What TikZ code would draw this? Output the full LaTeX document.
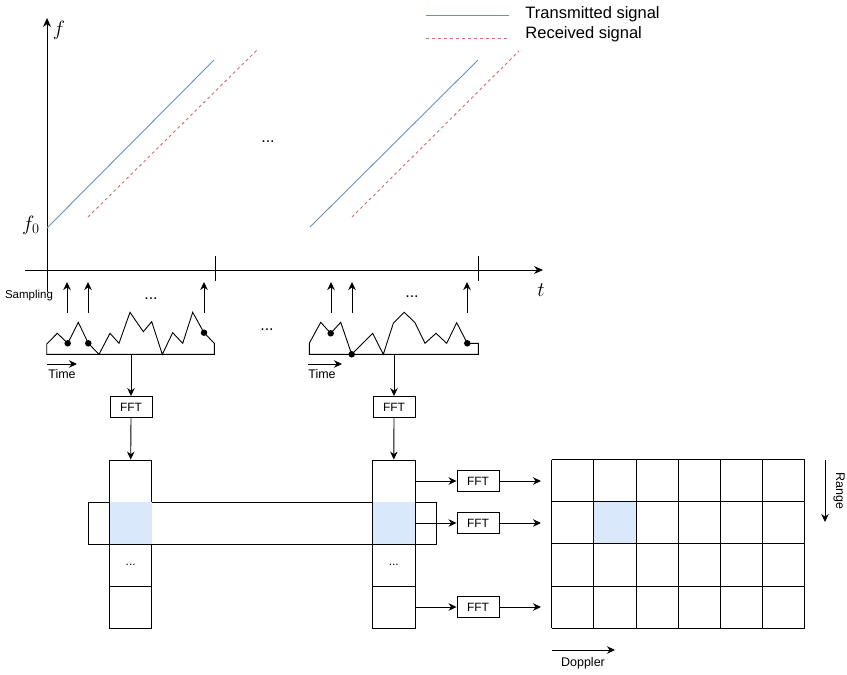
\documentclass[tikz,border=0pt]{standalone}
\usepackage{fontspec}
\setmainfont{Liberation Sans}
\usetikzlibrary{arrows.meta}
\definecolor{txblue}{HTML}{6C8EBF}
\definecolor{rxred}{HTML}{D46A6A}
\definecolor{cellblue}{HTML}{DAE8FC}
\tikzset{
  arr/.style={-{Stealth[length=8pt,width=7.5pt]}},
  tx/.style={txblue, line width=0.9pt},
  rx/.style={rxred, line width=0.9pt, dash pattern=on 3pt off 3pt},
  fftbox/.style={draw, minimum width=42pt, minimum height=21pt, inner sep=0pt, font=\fontsize{12}{14}\selectfont},
  cell/.style={draw, minimum width=42.3pt, minimum height=42pt, inner sep=0pt, font=\fontsize{12}{14}\selectfont},
  lbl/.style={inner sep=0pt, font=\fontsize{12.5}{15}\selectfont},
  leg/.style={inner sep=0pt, anchor=west, font=\fontsize{16.5}{19}\selectfont},
  dotsl/.style={inner sep=0pt, font=\fontsize{16}{18}\selectfont},
  sdot/.style={circle, fill=black, inner sep=0pt, minimum size=6.5pt},
  mathl/.style={inner sep=0pt, font=\fontsize{21}{23}\selectfont}
}
\begin{document}
\begin{tikzpicture}[x=1pt,y=-1pt,line width=0.9pt]
\useasboundingbox (0,0) rectangle (847,675);

% legend
\coordinate (lg1a) at (426,15); \coordinate (lg1b) at (509,15);
\coordinate (lg2a) at (426,38); \coordinate (lg2b) at (509,38);
\draw[tx] (lg1a) -- (lg1b);
\draw[rx] (lg2a) -- (lg2b);
\node[leg] (legtx) at (525,14) {Transmitted signal};
\node[leg] (legrx) at (525,34) {Received signal};

% axes
\coordinate (ybot) at (47,292); \coordinate (ytop) at (47,18);
\coordinate (xleft) at (25,270); \coordinate (xright) at (543,270);
\draw[-{Stealth[length=9pt,width=8pt]}] (ybot) -- (ytop);
\draw[-{Stealth[length=9pt,width=8pt]}] (xleft) -- (xright);
\node[mathl] (flab) at (59,30) {$f$};
\node[mathl] (f0lab) at (31,225) {$f_0$};
\node[mathl] (tlab) at (541,290) {$t$};
\draw (215,256) -- (215,281);
\draw (478,256) -- (478,281);

% chirps
\draw[tx] (47,228) -- (214,60);
\draw[rx] (88,217) -- (257,50);
\draw[tx] (310,227) -- (478,60);
\draw[rx] (352,217) -- (519,51);
\node[dotsl] (dtop) at (268,142) {...};

% sampling
\node[inner sep=0pt, font=\fontsize{11.5}{13}\selectfont] (samp) at (29,296) {Sampling};
\foreach \x/\n in {67/a,88/b,204/c,331/d,352/e,467/f}{
  \coordinate (s\n0) at (\x,313);
  \coordinate (s\n1) at (\x,282);
  \draw[arr] (s\n0) -- (s\n1);
}
\node[dotsl] (d1) at (151,299) {...};
\node[dotsl] (d2) at (412,297) {...};
\node[dotsl] (dmid) at (267,330) {...};

% waveform 1
\draw (214.3,354.3) -- (46.7,354.3) -- (46.7,344) -- (57.3,333.3) -- (67.7,343.3) -- (78.3,322.3)
  -- (88.3,343.3) -- (99,354.3) -- (110,333.3) -- (119,343.3) -- (130,312.3) -- (143.3,331.7)
  -- (151.7,321.7) -- (162.3,354.3) -- (172.7,332.7) -- (182.7,343.3) -- (192.7,312.3)
  -- (204,332.7) -- (214.3,343.3) -- cycle;
\node[sdot] (p1) at (67.7,343.3) {};
\node[sdot] (p2) at (88.3,343.3) {};
\node[sdot] (p3) at (204,332.7) {};

% waveform 2
\draw (478.3,354.3) -- (309.3,354.3) -- (309.3,343.3) -- (320.7,322.3) -- (330.7,333.3) -- (340.7,322.3)
  -- (351.7,354.3) -- (372.7,333.3) -- (383.3,354.3) -- (393.3,323.3) -- (404.3,312.3) -- (415,322.7)
  -- (425,343.3) -- (436,333.3) -- (446.7,343.3) -- (456.7,322.7) -- (467.3,343.3) -- (478.3,343.3) -- cycle;
\node[sdot] (q1) at (330.7,333.3) {};
\node[sdot] (q2) at (351.7,354.3) {};
\node[sdot] (q3) at (467.3,343.3) {};

% time arrows
\coordinate (t1a) at (47,364); \coordinate (t1b) at (77,364);
\coordinate (t2a) at (308,364); \coordinate (t2b) at (342,364);
\draw[arr] (t1a) -- (t1b);
\draw[arr] (t2a) -- (t2b);
\node[lbl] (time1) at (62,374) {Time};
\node[lbl] (time2) at (322,374) {Time};

% FFT of chirps
\coordinate (w1) at (131,354.3);
\coordinate (w2) at (394,354.3);
\node[fftbox] (fft1) at (131,407) {FFT};
\node[fftbox] (fft2) at (394,407) {FFT};
\draw[arr] (w1) -- (fft1.north);
\draw[arr] (w2) -- (fft2.north);

% columns
\foreach \c/\x in {1/130.7,2/393.8}{
  \node[cell] (c\c r1) at (\x,481) {};
  \node[cell] (c\c r2) at (\x,523) {};
  \node[cell] (c\c r3) at (\x,565) {...};
  \node[cell] (c\c r4) at (\x,607) {};
}
\draw (88.3,502) rectangle (436,544);
\fill[cellblue] (109.5,502) rectangle (151.9,544);
\fill[cellblue] (372.6,502) rectangle (415,544);
\draw[arr] (fft1.south) -- (c1r1.north);
\draw[arr] (fft2.south) -- (c2r1.north);

% row FFTs
\node[fftbox] (ffta) at (478,481) {FFT};
\node[fftbox] (fftb) at (478,523) {FFT};
\node[fftbox] (fftc) at (478,607) {FFT};
\coordinate (ea) at (541,481);
\coordinate (eb) at (541,523);
\coordinate (ec) at (541,607);
\draw[arr] (c2r1.east) -- (ffta.west);
\draw[arr] (c2r2.east) -- (fftb.west);
\draw[arr] (c2r4.east) -- (fftc.west);
\draw[arr] (ffta.east) -- (ea);
\draw[arr] (fftb.east) -- (eb);
\draw[arr] (fftc.east) -- (ec);

% range-doppler grid
\fill[cellblue] (594.2,501.7) rectangle (636.3,544);
\foreach \i in {0,...,6}{
  \draw (551.7+42.2*\i,459.5) -- (551.7+42.2*\i,628.3);
}
\foreach \j in {0,...,4}{
  \draw (551.7,459.5+42.2*\j) -- (805,459.5+42.2*\j);
}
\coordinate (ra) at (825,460); \coordinate (rb) at (825,522);
\draw[arr] (ra) -- (rb);
\node[lbl, rotate=-90] (range) at (839,491) {Range};
\coordinate (da) at (552,650); \coordinate (db) at (615,650);
\draw[arr] (da) -- (db);
\node[lbl] (doppler) at (583,663) {Doppler};
\end{tikzpicture}
\end{document}
